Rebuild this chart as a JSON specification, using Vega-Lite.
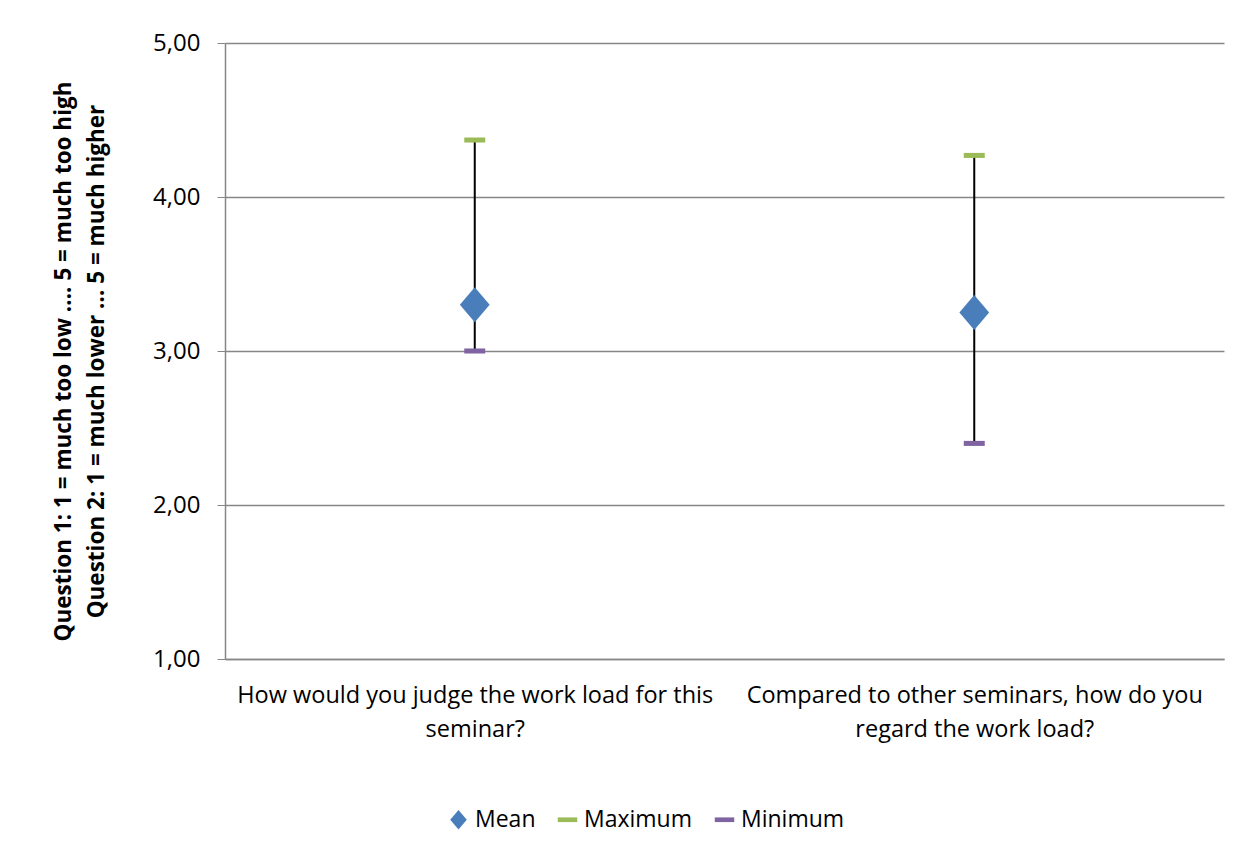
{
  "$schema": "https://vega.github.io/schema/vega-lite/v6.json",
  "width": 999,
  "height": 616,
  "autosize": {"type": "none"},
  "padding": {"left": 225, "top": 43, "right": 33, "bottom": 194},
  "background": "white",
  "config": {
    "font": "Open Sans",
    "view": {"stroke": null},
    "axis": {"labelColor": "black", "titleColor": "black", "domainColor": "#868686", "tickColor": "#868686", "gridColor": "#868686"}
  },
  "data": {
    "values": [
      {"question": "How would you judge the work load for this seminar?", "Mean": 3.30, "Maximum": 4.37, "Minimum": 3.00},
      {"question": "Compared to other seminars, how do you regard the work load?", "Mean": 3.25, "Maximum": 4.27, "Minimum": 2.40}
    ]
  },
  "encoding": {
    "x": {
      "field": "question",
      "type": "nominal",
      "sort": null,
      "scale": {"type": "point", "padding": 0.5},
      "axis": {
        "title": null,
        "labelAngle": 0,
        "ticks": false,
        "labelFontSize": 23.5,
        "labelLineHeight": 34,
        "labelPadding": 24,
        "labelLimit": 0,
        "domainWidth": 1.5,
        "labelExpr": "datum.label == 'How would you judge the work load for this seminar?' ? ['How would you judge the work load for this', 'seminar?'] : ['Compared to other seminars, how do you', 'regard the work load?']"
      }
    }
  },
  "layer": [
    {
      "mark": {"type": "rule", "color": "black", "strokeWidth": 2},
      "encoding": {
        "y": {
          "field": "Minimum",
          "type": "quantitative",
          "scale": {"domain": [1, 5], "nice": false, "zero": false},
          "axis": {
            "values": [1, 2, 3, 4, 5],
            "labelExpr": "replace(format(datum.value, '.2f'), '.', ',')",
            "labelFontSize": 24,
            "labelPadding": 17,
            "tickSize": 8,
            "domainWidth": 1.5,
            "gridWidth": 1.5,
            "title": ["Question 1: 1 = much too low .... 5 = much too high", "Question 2: 1 = much lower ... 5 = much higher"],
            "titleFontSize": 22.5,
            "titleFontWeight": "bold",
            "titleLineHeight": 33,
            "titlePadding": 44,
            "titleY": 318
          }
        },
        "y2": {"field": "Maximum"}
      }
    },
    {
      "transform": [
        {"fold": ["Mean", "Maximum", "Minimum"], "as": ["series", "value"]},
        {"filter": "datum.series !== 'Mean'"}
      ],
      "mark": {"type": "point", "filled": true, "opacity": 1, "size": 441},
      "encoding": {
        "y": {"field": "value", "type": "quantitative"},
        "color": {
          "field": "series",
          "type": "nominal",
          "scale": {"domain": ["Mean", "Maximum", "Minimum"], "range": ["#4a7ebb", "#9bbb59", "#8064a2"]},
          "legend": {
            "title": null,
            "orient": "none",
            "direction": "horizontal",
            "legendX": 222,
            "legendY": 765,
            "labelFontSize": 23,
            "labelColor": "black",
            "symbolSize": 380,
            "columnPadding": 20,
            "labelOffset": 5
          }
        },
        "shape": {
          "field": "series",
          "type": "nominal",
          "scale": {"domain": ["Mean", "Maximum", "Minimum"], "range": ["M-0.85,0L0,-1L0.85,0L0,1Z", "M-1,-0.24H1V0.24H-1Z", "M-1,-0.24H1V0.24H-1Z"]}
        }
      }
    },
    {
      "transform": [
        {"fold": ["Mean"], "as": ["series", "value"]}
      ],
      "mark": {"type": "point", "filled": true, "opacity": 1, "size": 1225},
      "encoding": {
        "y": {"field": "value", "type": "quantitative"},
        "color": {"field": "series", "type": "nominal"},
        "shape": {"field": "series", "type": "nominal"}
      }
    }
  ]
}
